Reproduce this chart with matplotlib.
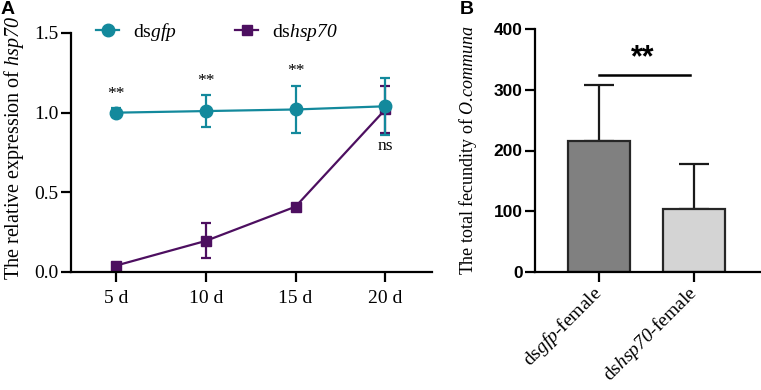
import matplotlib
matplotlib.use("Agg")
import matplotlib.pyplot as plt
from matplotlib.lines import Line2D
import numpy as np

# math parts are only used for the italic segments; make both rm and it italic
plt.rcParams['mathtext.fontset'] = 'custom'
plt.rcParams['mathtext.rm'] = 'Liberation Serif:italic'
plt.rcParams['mathtext.it'] = 'Liberation Serif:italic'
plt.rcParams['mathtext.bf'] = 'Liberation Serif:bold'

# ---- Panel A data ----
days = ["5 d", "10 d", "15 d", "20 d"]
gfp_mean = [1.00, 1.01, 1.02, 1.04]
gfp_err = [0.03, 0.10, 0.15, 0.18]
hsp_mean = [0.04, 0.195, 0.41, 1.02]
hsp_err = [0.01, 0.11, 0.01, 0.15]
sig_labels = ["**", "**", "**", "ns"]

# ---- Panel B data ----
groups = ["ds$\\mathrm{gfp}$-female", "ds$\\mathrm{hsp70}$-female"]
fecundity = [216, 104]
fecundity_err = [91, 74]

teal = "#13899c"
purple = "#4d0f60"
serif = "Liberation Serif"
sans = "Liberation Sans"

fig = plt.figure(figsize=(7.61, 3.90), dpi=100)

# ================= Panel A =================
axA = fig.add_axes([71/761, 1-272/390, (432-71)/761, (272-33)/390])
x = np.arange(len(days))
axA.errorbar(x, hsp_mean, yerr=hsp_err, color=purple, marker='s', markersize=7.5,
             lw=1.6, elinewidth=1.6, capsize=3.5, capthick=1.6, zorder=2, clip_on=False)
axA.errorbar(x, gfp_mean, yerr=gfp_err, color=teal, marker='o', markersize=9,
             lw=1.6, elinewidth=1.6, capsize=3.5, capthick=1.6, zorder=3, clip_on=False)
axA.set_xlim(-0.5, 3.52)
axA.set_ylim(0, 1.5)
axA.set_yticks([0.0, 0.5, 1.0, 1.5])
axA.set_yticklabels(["0.0", "0.5", "1.0", "1.5"])
axA.set_xticks(x)
axA.set_xticklabels(days)
for s in ['top', 'right']:
    axA.spines[s].set_visible(False)
for s in ['left', 'bottom']:
    axA.spines[s].set_linewidth(1.6)
axA.tick_params(width=1.6, length=7, labelsize=14, pad=2)
axA.tick_params(axis='x', pad=6)
for lab in axA.get_xticklabels() + axA.get_yticklabels():
    lab.set_fontfamily(serif)
axA.set_ylabel("The relative expression of $\\mathrm{hsp70}$", fontsize=14.5,
               fontfamily=serif)
axA.yaxis.set_label_coords(-0.125, (272-148)/239)

# significance annotations
for i in range(3):
    axA.text(x[i], gfp_mean[i] + gfp_err[i] + 0.04, sig_labels[i], ha='center',
             va='bottom', fontsize=12.5, fontfamily=serif)
axA.text(x[3], hsp_mean[3] - hsp_err[3] - 0.03, sig_labels[3], ha='center', va='top',
         fontsize=12.5, fontfamily=serif)

# legend
handles = [Line2D([], [], color=teal, marker='o', markersize=9, lw=1.6),
           Line2D([], [], color=purple, marker='s', markersize=7.5, lw=1.6)]
fig.legend(handles, ["ds$\\mathrm{gfp}$", "ds$\\mathrm{hsp70}$"], loc='center left',
           bbox_to_anchor=(96/761, 1-32/390), ncol=2, frameon=False,
           prop={'family': serif, 'size': 14}, handlelength=1.2,
           handletextpad=0.7, columnspacing=3.0, borderaxespad=0, borderpad=0)

fig.text(1/761, 1-9/390, "A", fontsize=14, fontweight='bold', fontfamily=sans,
         ha='left', va='center')

# ================= Panel B =================
axB = fig.add_axes([535/761, 1-272/390, (760-535)/761, (272-29)/390])
xb = np.arange(len(groups))
axB.bar(xb, fecundity, width=0.65, color=["#808080", "#d4d4d4"], edgecolor="#262626",
        linewidth=1.6, zorder=2)
axB.errorbar(xb, fecundity, yerr=[[0, 0], fecundity_err], fmt='none', ecolor="#1a1a1a",
             elinewidth=1.6, capsize=11, capthick=1.6, zorder=1)
axB.set_xlim(-0.67, 1.69)
axB.set_ylim(0, 400)
axB.set_yticks([0, 100, 200, 300, 400])
axB.set_xticks(xb)
axB.set_xticklabels(groups, rotation=45, ha='right', va='center',
                    rotation_mode='anchor', fontsize=14, fontfamily=serif)
for s in ['top', 'right']:
    axB.spines[s].set_visible(False)
for s in ['left', 'bottom']:
    axB.spines[s].set_linewidth(1.6)
axB.tick_params(width=1.6, length=7)
axB.tick_params(axis='y', labelsize=12.5, pad=2)
axB.tick_params(axis='x', pad=6)
for lab in axB.get_yticklabels():
    lab.set_fontfamily(sans)
    lab.set_fontweight('bold')
axB.set_ylabel("The total fecundity of $\\mathrm{O}$.$\\mathrm{communa}$", fontsize=13,
               fontfamily=serif)
axB.yaxis.set_label_coords(-0.25, (272-150)/243)

# significance bar
axB.plot([0, 0.96], [325, 325], color='black', lw=1.8, clip_on=False)
axB.text(0.46, 352, "**", ha='center', va='center', fontsize=22, fontweight='bold',
         fontfamily=sans)

fig.text(460/761, 1-10/390, "B", fontsize=14, fontweight='bold', fontfamily=sans,
         ha='left', va='center')

fig.savefig("out.png", dpi=100)
